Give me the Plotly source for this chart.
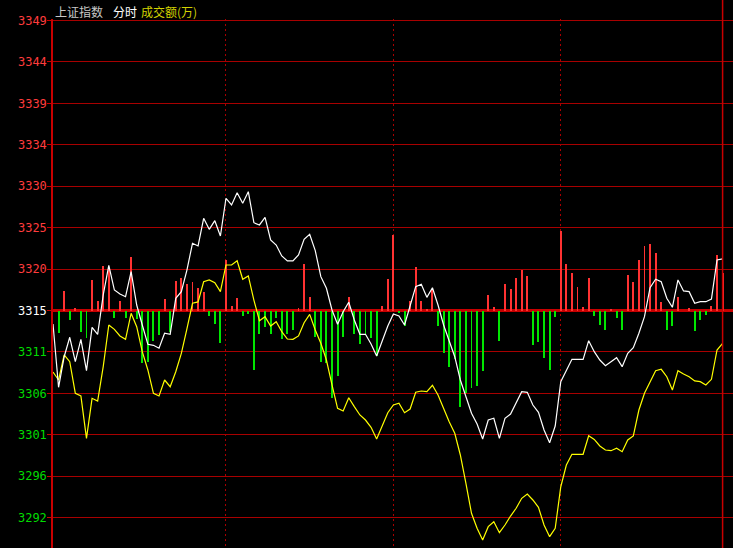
import plotly.graph_objects as go

# ---------------- data ----------------
minutes = list(range(0, 241, 2))          # minute index of the trading day (every 2 min)

index_price = [  # white line: 上证指数
    3313.85, 3306.59, 3310.10, 3312.33, 3309.53, 3312.10, 3308.50, 3313.47, 3312.67, 3317.18,
    3320.58, 3317.75, 3317.29, 3316.98, 3319.85, 3316.03, 3313.74, 3311.52, 3311.41, 3311.07,
    3312.79, 3312.67, 3316.80, 3317.56, 3320.04, 3323.11, 3322.80, 3325.97, 3324.71, 3325.70,
    3323.94, 3328.27, 3327.50, 3328.91, 3327.69, 3329.02, 3325.47, 3325.21, 3326.09, 3323.49,
    3322.91, 3321.65, 3321.08, 3321.08, 3321.77, 3323.57, 3324.14, 3322.26, 3319.28, 3317.95,
    3315.46, 3313.82, 3315.26, 3316.34, 3314.31, 3312.67, 3312.67, 3311.56, 3310.18, 3312.02,
    3313.62, 3315.00, 3314.77, 3313.74, 3315.84, 3318.13, 3318.41, 3316.91, 3318.01, 3316.03,
    3313.74, 3311.82, 3310.10, 3307.43, 3305.51, 3303.61, 3302.38, 3300.66, 3302.84, 3303.04,
    3300.74, 3303.04, 3303.53, 3304.76, 3306.09, 3306.02, 3304.56, 3303.73, 3301.70, 3300.24,
    3302.15, 3307.24, 3308.50, 3309.80, 3309.80, 3309.80, 3311.94, 3310.68, 3309.72, 3309.07,
    3309.53, 3309.99, 3308.96, 3310.49, 3311.13, 3312.79, 3314.69, 3318.01, 3318.98, 3318.70,
    3316.80, 3315.77, 3318.90, 3317.64, 3317.56, 3316.23, 3316.41, 3316.41, 3316.72, 3321.19,
    3321.31,
]

lead_price = [  # yellow line
    3308.35, 3307.43, 3310.30, 3309.53, 3305.90, 3305.60, 3300.74, 3305.33, 3305.02, 3308.96,
    3313.74, 3313.24, 3312.48, 3312.10, 3315.08, 3313.54, 3310.68, 3308.58, 3305.90, 3305.60,
    3307.43, 3306.66, 3308.38, 3310.49, 3313.28, 3316.23, 3316.38, 3318.70, 3318.90, 3318.59,
    3317.56, 3320.62, 3320.62, 3321.11, 3318.98, 3319.36, 3316.60, 3314.23, 3314.69, 3313.62,
    3314.12, 3312.97, 3312.13, 3312.10, 3312.48, 3314.00, 3314.96, 3313.16, 3311.64, 3309.72,
    3306.86, 3304.18, 3303.87, 3305.40, 3304.37, 3303.42, 3302.84, 3302.01, 3300.66, 3302.07,
    3303.68, 3304.56, 3304.76, 3303.68, 3304.10, 3306.02, 3306.17, 3306.09, 3306.82, 3305.71,
    3304.07, 3302.65, 3301.32, 3298.83, 3295.58, 3292.14, 3290.42, 3289.08, 3290.61, 3291.18,
    3289.92, 3290.80, 3291.83, 3292.72, 3293.86, 3294.36, 3293.67, 3292.83, 3290.80, 3289.46,
    3290.42, 3295.19, 3297.68, 3298.91, 3298.91, 3298.91, 3301.04, 3300.61, 3299.86, 3299.40,
    3299.32, 3299.60, 3299.21, 3300.55, 3301.01, 3303.99, 3305.90, 3307.24, 3308.50, 3308.66,
    3307.81, 3306.28, 3308.50, 3308.12, 3307.81, 3307.32, 3307.24, 3306.86, 3307.51, 3310.87,
    3311.64,
]

bar_minutes = list(range(2, 241, 2))
turnover = [  # 成交额(万), signed: + red / - green
    -2200, 2000, -900, 300, -2100, -2700, 3100, 950, 4450, 4300,
    -700, 950, -700, 5350, -800, -5200, -5100, -3000, -2450, 1150,
    -2100, 3000, 3250, 2650, 2850, 2300, 1850, -500, -1300, -3200,
    5100, 450, 1300, -500, -300, -5900, -2300, -1600, -2300, -700,
    -2800, -2300, -1900, 250, 4650, 1350, -2600, -5100, -5200, -8700,
    -6500, -2600, 1350, -2300, -3300, -2300, -2700, -4500, 450, 3150,
    7550, -200, -1500, 950, 4350, 950, 150, 2100, -1500, -4200,
    -5600, -4800, -9600, -8200, -7700, -7500, -6000, 1550, 350, -3000,
    2650, 2150, 3250, 4050, 3450, -3400, -3100, -4700, -5900, -600,
    8000, 4650, 3750, 2350, 350, 3250, -500, -1400, -1900, 150,
    -700, -1900, 3550, 2850, 5050, 6450, 6650, 5750, 850, -1900,
    -1500, 1350, 0, 250, -2000, -900, -400, 450, 5550, 3750,
]

prev_close = 3315.40
tick_prices = [3348.65, 3343.90, 3339.15, 3334.40, 3329.65, 3324.90, 3320.15,
               3315.40, 3310.65, 3305.90, 3301.15, 3296.40, 3291.65]
tick_labels = ["3349", "3344", "3339", "3334", "3330", "3325", "3320",
               "3315", "3311", "3306", "3301", "3296", "3292"]
time_grid = [62, 122, 182]
close_minute = 240

# ---------------- styling / geometry ----------------
W, H = 733, 548
TOP, LEFT = 19, 53
CENTER_PX = 310.5
PX_PER_PT = 8.72
PX_PER_VOL = 0.01

RED_GRID = "#a80000"
RED_AXIS = "#c80000"
UP = "#ff3232"
DOWN = "#00e600"

plot_h = H - TOP
y2_range = [prev_close - (H - CENTER_PX) / PX_PER_PT, prev_close + (CENTER_PX - TOP) / PX_PER_PT]
y_range = [-(H - CENTER_PX) / PX_PER_VOL, (CENTER_PX - TOP) / PX_PER_VOL]


def colored(label, value):
    if value > prev_close + 0.01:
        c = "#ff3c3c"
    elif value < prev_close - 0.01:
        c = "#00dc00"
    else:
        c = "#ffffff"
    return f"<span style='color:{c}'>{label}</span>"


ticktext = [colored(l, v) for l, v in zip(tick_labels, tick_prices)]

fig = go.Figure()
fig.add_trace(go.Bar(
    x=bar_minutes, y=turnover, width=0.34,
    marker=dict(color=[UP if v >= 0 else DOWN for v in turnover], line=dict(width=0)),
    yaxis="y", hoverinfo="skip",
))
fig.add_trace(go.Scatter(
    x=minutes, y=lead_price, mode="lines", yaxis="y2",
    line=dict(color="#ffff00", width=1.2), hoverinfo="skip",
))
fig.add_trace(go.Scatter(
    x=minutes, y=index_price, mode="lines", yaxis="y2",
    line=dict(color="#ffffff", width=1.2), hoverinfo="skip",
))

fig.update_layout(
    width=W, height=H,
    margin=dict(l=LEFT, r=0, t=TOP, b=0, pad=0),
    paper_bgcolor="#000000", plot_bgcolor="#000000",
    showlegend=False, bargap=0,
    xaxis=dict(range=[0, (W - LEFT) / 2.79], showticklabels=False, ticks="",
               tickvals=time_grid, showgrid=True, gridcolor=RED_GRID, gridwidth=1,
               griddash="2px,3px", zeroline=False, showline=False, fixedrange=True),
    yaxis=dict(range=y_range, showticklabels=False, showgrid=False, ticks="",
               zeroline=True, zerolinecolor=RED_AXIS, zerolinewidth=3,
               showline=False, fixedrange=True),
    yaxis2=dict(range=y2_range, overlaying="y", side="left",
                tickvals=tick_prices, ticktext=ticktext,
                tickfont=dict(family="DejaVu Sans Mono", size=12, color="#ffffff"),
                ticks="outside", ticklen=4, tickcolor=RED_AXIS, tickwidth=1,
                ticklabelstandoff=-2,
                showgrid=True, gridcolor=RED_GRID, gridwidth=1.2,
                zeroline=False, showline=True, linecolor=RED_AXIS, linewidth=1.5,
                fixedrange=True),
    shapes=[dict(type="line", xref="x", yref="paper", x0=close_minute, x1=close_minute,
                 y0=0, y1=1.05, line=dict(color=RED_AXIS, width=1.5))],
)

title_font = "Noto Sans CJK SC"
ty = 1 + (TOP - 11.7) / plot_h
for text, xpx, color in [("上证指数", 53, "#c8c8c8"), ("分时", 111, "#ffffff"), ("成交额(万)", 139, "#d2d200")]:
    fig.add_annotation(text=text, xref="paper", yref="paper",
                       x=(xpx - LEFT) / (W - LEFT), y=ty, xanchor="left", yanchor="middle",
                       showarrow=False, font=dict(family=title_font, size=12, color=color))

fig.write_html(
    "out.html",
    config={"displayModeBar": False},
    post_script="document.body.style.margin='0px';document.body.style.background='#000';"
                "document.body.style.overflow='hidden';",
)
